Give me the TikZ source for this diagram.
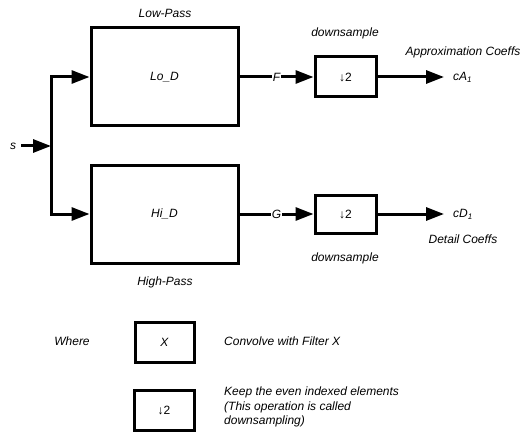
\documentclass[tikz,border=0pt]{standalone}
\usepackage{fontspec}
\setmainfont{Liberation Sans}
\usetikzlibrary{arrows.meta}
\begin{document}
\begin{tikzpicture}[x=1pt,y=-1pt,
  font=\fontsize{12}{14.5}\selectfont\itshape,
  blk/.style={draw,line width=3pt,inner sep=0pt},
  lbl/.style={inner sep=1pt,fill=white},
  txt/.style={inner sep=0pt},
  arr/.style={line width=3pt,-{Triangle[length=18pt,width=13pt]}},
  wire/.style={line width=3pt}]
  \useasboundingbox (0,0) rectangle (522,433);

  % filter bank
  \node[blk,minimum width=147pt,minimum height=98pt] (lod) at (164.5,77) {Lo\_D};
  \node[blk,minimum width=147pt,minimum height=98pt] (hid) at (164.5,214) {Hi\_D};
  \node[txt] (lp) at (165,13) {Low-Pass};
  \node[txt] (hp) at (165,282) {High-Pass};

  % downsamplers
  \node[blk,minimum width=61pt,minimum height=40pt] (dsa) at (345.5,77) {\upshape↓2};
  \node[blk,minimum width=61pt,minimum height=38pt] (dsd) at (345.5,214) {\upshape↓2};
  \node[txt] (dta) at (345,33) {downsample};
  \node[txt] (dtd) at (345,258) {downsample};

  % input and split
  \node[txt] (s) at (13,146) {s};
  \coordinate (sin) at (21,146);
  \coordinate (split) at (51,146);
  \draw[arr] (sin) -- (split);
  \draw[arr] (split) |- (lod.west);
  \draw[arr] (split) |- (hid.west);

  % filter outputs
  \draw[arr] (lod.east) -- node[lbl] (f) {F} (dsa.west);
  \draw[arr] (hid.east) -- node[lbl] (g) {G} (dsd.west);

  % coefficients
  \coordinate (ca) at (444,77);
  \coordinate (cd) at (444,214);
  \draw[arr] (dsa.east) -- (ca);
  \draw[arr] (dsd.east) -- (cd);
  \node[txt,anchor=west] (cat) at (453,77) {cA\textsubscript{1}};
  \node[txt,anchor=west] (cdt) at (453,214) {cD\textsubscript{1}};
  \node[txt] (apx) at (463,52) {Approximation Coeffs};
  \node[txt] (det) at (463,239) {Detail Coeffs};

  % legend
  \node[txt] (where) at (72,341) {Where};
  \node[blk,minimum width=59pt,minimum height=40pt] (kx) at (164.5,342) {X};
  \node[txt,anchor=west] (kxt) at (224,341) {Convolve with Filter X};
  \node[blk,minimum width=60pt,minimum height=40pt] (kd) at (164,410) {\upshape↓2};
  \node[txt,anchor=north west,align=left] (kdt) at (224,387)
    {Keep the even indexed elements\\(This operation is called\\downsampling)};
\end{tikzpicture}
\end{document}
